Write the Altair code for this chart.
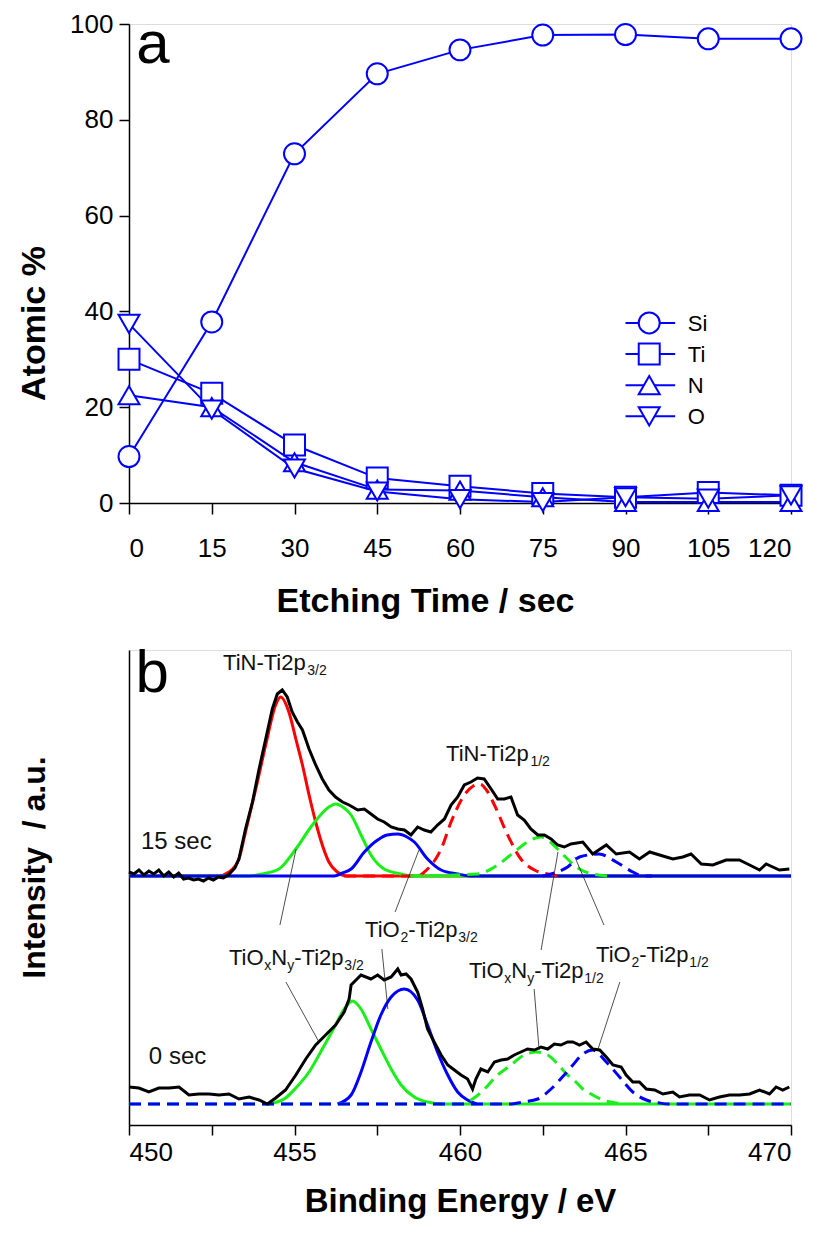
import altair as alt
import pandas as pd

BLUE = "#0000ff"
RED = "#ff0000"
GREEN = "#19f019"
FONT = "Liberation Sans, Arial, sans-serif"

# ---------------- panel a : atomic % vs etching time ----------------
etch_time = [0, 15, 30, 45, 60, 75, 90, 105, 120]
series_names = ["Si", "Ti", "N", "O"]
series_shapes = ["circle", "square", "triangle-up", "triangle-down"]
si_pct = [9.7, 37.8, 72.9, 89.6, 94.6, 97.7, 97.8, 96.9, 96.9]
ti_pct = [30.0, 22.9, 12.1, 5.2, 3.5, 2.0, 1.2, 2.2, 1.6]
n_pct = [22.5, 20.0, 8.5, 2.8, 2.6, 1.2, 0.2, 0.2, 0.2]
o_pct = [37.4, 19.5, 7.2, 2.4, 0.8, 0.2, 1.2, 0.9, 1.6]

rows = []
for k, (name, vals) in enumerate(zip(series_names, [si_pct, ti_pct, n_pct, o_pct])):
    for t, v in zip(etch_time, vals):
        rows.append({"t": t, "v": v, "series": name, "order": k})
df_a = pd.DataFrame(rows)

W = 662
HA = 479
HB = 475

axis_common = dict(
    domainColor="black", domainWidth=1.5, tickColor="black", tickWidth=1.5,
    labelFont=FONT, labelFontSize=26, labelColor="black", grid=False,
    titleFont=FONT, titleFontWeight="bold", titleColor="black",
)

xa = alt.X("t:Q", scale=alt.Scale(domain=[0, 120], nice=False),
           axis=alt.Axis(values=etch_time, title="Etching Time / sec", tickSize=11,
                         labelPadding=21, titleFontSize=34, titleX=296, titleY=108,
                         titleBaseline="alphabetic", **axis_common))
ya = alt.Y("v:Q", scale=alt.Scale(domain=[0, 100], nice=False),
           axis=alt.Axis(values=[0, 20, 40, 60, 80, 100], title="Atomic %", tickSize=10,
                         labelPadding=6, titleFontSize=34, titleX=-85, titleY=299,
                         titleAngle=270, titleBaseline="alphabetic", **axis_common))

shape_scale = alt.Scale(domain=series_names, range=series_shapes)

lines_a = alt.Chart(df_a).mark_line(color=BLUE, strokeWidth=2).encode(
    x=xa, y=ya, detail="series:N", order="t:Q")

points_a = alt.Chart(df_a).mark_point(
    fill="white", stroke=BLUE, strokeWidth=2, opacity=1, fillOpacity=1, size=440
).encode(
    x=xa, y=ya,
    shape=alt.Shape("series:N", scale=shape_scale, legend=None),
    order=alt.Order("order:Q"),
)

# in-plot legend (line + marker + name), placed in data units of the panel
leg_x_start, leg_x_mid, leg_x_end, leg_x_text = 90.0, 94.3, 99.0, 101.3
leg_y_top, leg_y_step = 37.6, 6.5
df_leg = pd.DataFrame({
    "series": series_names,
    "x0": [leg_x_start] * 4, "x1": [leg_x_end] * 4,
    "xm": [leg_x_mid] * 4, "xt": [leg_x_text] * 4,
    "y": [leg_y_top - leg_y_step * k for k in range(4)],
})
leg_rule = alt.Chart(df_leg).mark_rule(color=BLUE, strokeWidth=2).encode(
    x=alt.X("x0:Q", scale=alt.Scale(domain=[0, 120], nice=False)),
    x2="x1:Q", y=alt.Y("y:Q", scale=alt.Scale(domain=[0, 100], nice=False)))
leg_pts = alt.Chart(df_leg).mark_point(
    fill="white", stroke=BLUE, strokeWidth=2, opacity=1, fillOpacity=1, size=440
).encode(
    x=alt.X("xm:Q"), y=alt.Y("y:Q"),
    shape=alt.Shape("series:N", scale=shape_scale, legend=None))
leg_txt = alt.Chart(df_leg).mark_text(
    font=FONT, fontSize=22, align="left", baseline="middle", color="black", dy=1
).encode(x=alt.X("xt:Q"), y=alt.Y("y:Q"), text="series:N")

letter_a = alt.Chart(pd.DataFrame({"t": [1.3], "v": [91.9], "s": ["a"]})).mark_text(
    font=FONT, fontSize=60, align="left", baseline="alphabetic", color="black"
).encode(x=xa, y=ya, text="s:N")

chart_a = alt.layer(lines_a, points_a, leg_rule, leg_pts, leg_txt, letter_a).properties(
    width=W, height=HA)

# ---------------- panel b : XPS Ti2p spectra ----------------
upper_offset = 249
lower_offset = 21

black_15_E = [450.0, 450.15, 450.3, 450.45, 450.6, 450.75, 450.9, 451.05, 451.2, 451.35, 451.5,
              451.65, 451.8, 451.95, 452.1, 452.25, 452.4, 452.55, 452.7, 452.85, 453.0, 453.2,
              453.32, 453.52, 453.73, 453.93, 454.13, 454.33, 454.48, 454.63, 454.78, 454.93,
              455.09, 455.24, 455.44, 455.64, 455.84, 456.04, 456.24, 456.45, 456.65, 456.91,
              457.11, 457.31, 457.51, 457.71, 457.92, 458.12, 458.32, 458.52, 458.72, 458.92,
              459.12, 459.32, 459.53, 459.73, 459.93, 460.13, 460.33, 460.53, 460.73, 460.94,
              461.14, 461.34, 461.54, 461.74, 461.94, 462.14, 462.35, 462.55, 462.75, 462.95,
              463.15, 463.35, 463.71, 464.01, 464.42, 464.72, 465.12, 465.42, 465.73, 466.03,
              466.43, 466.73, 466.98, 467.29, 467.64, 468.04, 468.44, 468.75, 469.05, 469.25,
              469.65, 469.95]
black_15_I = [4, 2, 6, 1, 5, 2, 6, 0, 4, -1, 3,
              -3, -2, -4, -3, -5, -2, -4, -1, -2, 1, 8,
              17, 47, 74, 107, 137, 167, 182, 186, 179, 164,
              154, 146, 127, 111, 97, 86, 79, 74, 71, 66,
              67, 62, 57, 54, 49, 47, 46, 41, 49, 46,
              44, 51, 57, 71, 79, 91, 94, 98, 97, 87,
              77, 77, 79, 61, 56, 47, 41, 41, 37, 31,
              29, 32, 34, 22, 31, 22, 24, 17, 24, 21,
              17, 19, 22, 12, 11, 16, 16, 11, 6, 12,
              6, 7]

black_0_E = [450.0, 450.3, 450.6, 450.9, 451.21, 451.51, 451.81, 452.11, 452.42, 452.72, 453.02,
             453.32, 453.63, 453.93, 454.18, 454.43, 454.73, 455.04, 455.34, 455.64, 455.94,
             456.24, 456.5, 456.65, 456.71, 457.01, 457.31, 457.51, 457.71, 457.92, 458.12,
             458.22, 458.37, 458.52, 458.72, 458.87, 459.02, 459.22, 459.43, 459.63, 459.83,
             460.03, 460.23, 460.38, 460.48, 460.63, 460.84, 461.04, 461.24, 461.44, 461.64,
             461.84, 462.04, 462.25, 462.45, 462.65, 462.85, 463.05, 463.25, 463.41, 463.61,
             463.81, 464.01, 464.22, 464.42, 464.62, 464.87, 465.02, 465.22, 465.42, 465.63,
             465.88, 466.13, 466.43, 466.63, 466.93, 467.24, 467.54, 467.84, 468.14, 468.45,
             468.75, 469.05, 469.35, 469.55, 469.75, 469.95]
black_0_I = [17, 16, 12, 16, 16, 17, 9, 10, 10, 9, 10,
             5, 7, 4, 0, 6, 14, 29, 45, 59, 69,
             79, 92, 105, 119, 129, 125, 129, 124, 127, 135,
             129, 130, 125, 112, 95, 75, 62, 49, 39, 34,
             29, 25, 15, 25, 35, 32, 42, 44, 45, 49,
             52, 55, 54, 57, 55, 60, 59, 62, 62, 59,
             62, 55, 54, 47, 39, 37, 29, 22, 22, 15,
             14, 10, 12, 7, 9, 9, 4, 7, 9, 9,
             10, 14, 10, 17, 14, 17]

# fitted components of the 15 sec spectrum
red_solid_15_E = [450.0, 452.7, 453.02, 453.32, 453.52, 453.83, 454.13, 454.43, 454.58, 454.83,
                  455.04, 455.24, 455.44, 455.64, 455.84, 456.04, 456.29, 456.6, 470.0]
red_solid_15_I = [0, 0, 4, 17, 44, 87, 131, 171, 179, 164, 137, 111, 81, 54, 31, 14, 4, 0, 0]
green_solid_15_E = [450.0, 453.6, 454.03, 454.53, 455.04, 455.54, 456.04, 456.24, 456.5, 456.71,
                    457.01, 457.31, 457.71, 458.22, 458.6, 470.0]
green_solid_15_I = [0, 0, 2, 7, 27, 51, 69, 72, 68, 61, 41, 21, 7, 2, 0, 0]
blue_solid_15_E = [450.0, 456.2, 456.45, 456.71, 457.11, 457.51, 457.8, 458.12, 458.4, 458.62,
                   459.02, 459.43, 459.93, 460.3, 470.0]
blue_solid_15_I = [0, 0, 3, 7, 24, 36, 41, 42, 39, 34, 17, 6, 2, 0, 0]
red_dash_15_E = [456.5, 458.7, 459.02, 459.43, 459.73, 460.13, 460.4, 460.6, 460.8, 461.04,
                 461.44, 461.84, 462.25, 462.65, 463.0]
red_dash_15_I = [0, 0, 7, 27, 54, 81, 90, 92, 86, 71, 41, 17, 6, 2, 0]
green_dash_15_E = [458.5, 460.53, 461.14, 461.64, 462.14, 462.45, 462.95, 463.25, 463.61,
                   464.0, 464.5]
green_dash_15_I = [0, 2, 11, 24, 36, 39, 27, 17, 7, 2, 0]
blue_dash_15_E = [462.5, 462.75, 463.25, 463.61, 464.2, 464.72, 465.22, 465.52, 465.8]
blue_dash_15_I = [0, 2, 9, 19, 22, 14, 4, 0, 0]

# fitted components of the 0 sec spectrum
green_solid_0_E = [454.23, 454.73, 455.04, 455.44, 455.84, 456.24, 456.5, 456.75, 457.01,
                   457.31, 457.61, 457.92, 458.22, 458.62, 459.02, 459.5, 470.0]
green_solid_0_I = [0, 6, 16, 32, 55, 79, 95, 103, 95, 75, 55, 35, 19, 7, 2, 0, 0]
blue_solid_0_E = [456.3, 456.71, 457.01, 457.31, 457.61, 457.92, 458.32, 458.72, 459.02,
                  459.32, 459.63, 459.93, 460.23, 460.5]
blue_solid_0_I = [0, 9, 32, 62, 89, 107, 115, 104, 79, 52, 29, 12, 4, 0]
green_dash_0_E = [450.0, 460.0, 460.38, 460.74, 461.14, 461.54, 461.94, 462.3, 462.65, 462.95,
                  463.25, 463.41, 463.71, 464.01, 464.32, 464.72, 465.0]
green_dash_0_I = [0, 0, 5, 15, 29, 39, 49, 52, 49, 40, 29, 25, 15, 9, 4, 1, 0]
blue_dash_0_E = [450.0, 461.5, 461.9, 462.35, 462.75, 463.15, 463.41, 463.71, 464.01, 464.42,
                 464.82, 465.22, 465.63, 466.03, 466.3, 470.0]
blue_dash_0_I = [0, 0, 2, 5, 15, 29, 39, 50, 54, 42, 27, 12, 4, 1, 0, 0]

components = [
    ("red_solid_15", red_solid_15_E, red_solid_15_I, upper_offset, RED, False),
    ("green_solid_15", green_solid_15_E, green_solid_15_I, upper_offset, GREEN, False),
    ("blue_solid_15", blue_solid_15_E, blue_solid_15_I, upper_offset, BLUE, False),
    ("red_dash_15", red_dash_15_E, red_dash_15_I, upper_offset, RED, True),
    ("green_dash_15", green_dash_15_E, green_dash_15_I, upper_offset, GREEN, True),
    ("blue_dash_15", blue_dash_15_E, blue_dash_15_I, upper_offset, BLUE, True),
    ("green_solid_0", green_solid_0_E, green_solid_0_I, lower_offset, GREEN, False),
    ("blue_solid_0", blue_solid_0_E, blue_solid_0_I, lower_offset, BLUE, False),
    ("green_dash_0", green_dash_0_E, green_dash_0_I, lower_offset, GREEN, True),
    ("blue_dash_0", blue_dash_0_E, blue_dash_0_I, lower_offset, BLUE, True),
]

xb_scale = alt.Scale(domain=[450, 470], nice=False)
yb_scale = alt.Scale(domain=[0, HB], nice=False)
xb_ticks = [450, 452.5, 455, 457.5, 460, 462.5, 465, 467.5, 470]
xb = alt.X("E:Q", scale=xb_scale,
           axis=alt.Axis(values=xb_ticks, title="Binding Energy / eV", tickSize=10,
                         labelPadding=4, labelExpr="datum.value % 5 == 0 ? datum.label : ''",
                         titleFontSize=33, titleX=W / 2, titleY=86,
                         titleBaseline="alphabetic", **axis_common))
yb = alt.Y("I:Q", scale=yb_scale,
           axis=alt.Axis(title="Intensity\u00a0 / a.u.", labels=False, ticks=False,
                         titleFontSize=32, titleX=-85, titleY=217, titleAngle=270,
                         titleBaseline="alphabetic", **axis_common))

layers_b = []
for name, es, ins, off, col, dashed in components:
    dfc = pd.DataFrame({"E": es, "I": [v + off for v in ins]})
    kw = dict(color=col, strokeWidth=3, interpolate="monotone")
    if dashed:
        kw["strokeDash"] = [12, 7]
    layers_b.append(alt.Chart(dfc).mark_line(**kw).encode(x=xb, y=yb))
    if name == "blue_dash_15":
        df15 = pd.DataFrame({"E": black_15_E, "I": [v + upper_offset for v in black_15_I]})
        layers_b.append(alt.Chart(df15).mark_line(color="black", strokeWidth=3).encode(x=xb, y=yb))

df0 = pd.DataFrame({"E": black_0_E, "I": [v + lower_offset for v in black_0_I]})
layers_b.append(alt.Chart(df0).mark_line(color="black", strokeWidth=3).encode(x=xb, y=yb))

# leader lines of the annotations (energy, intensity of both ends)
lead_E1 = [455.05, 458.76, 462.96, 463.47, 454.74, 457.64, 462.24, 464.83]
lead_I1 = [276, 275, 273, 268, 143, 176, 136, 143]
lead_E2 = [454.56, 458.04, 462.45, 464.35, 455.74, 457.82, 462.39, 464.17]
lead_I2 = [200, 213, 175, 200, 83, 116, 75, 76]
df_lead = pd.DataFrame({"E": lead_E1, "I": lead_I1, "E2": lead_E2, "I2": lead_I2})
layers_b.append(alt.Chart(df_lead).mark_rule(color="#222222", strokeWidth=0.8).encode(
    x=xb, y=yb, x2="E2:Q", y2="I2:Q"))

# peak labels: anchor (energy, intensity) and text pieces (text, offset px, subscript?)
label_E = [452.84, 459.58, 457.13, 453.02, 460.27, 464.11]
label_I = [455, 364, 188, 160, 147, 163]
label_parts = [
    [("TiN-Ti2p", 0, False), ("3/2", 84.3, True)],
    [("TiN-Ti2p", 0, False), ("1/2", 84.3, True)],
    [("TiO", 0, False), ("2", 35.4, True), ("-Ti2p", 43.2, False), ("3/2", 93.3, True)],
    [("TiO", 0, False), ("x", 35.4, True), ("N", 42.4, False), ("y", 58.3, True),
     ("-Ti2p", 65.3, False), ("3/2", 115.4, True)],
    [("TiO", 0, False), ("x", 35.4, True), ("N", 42.4, False), ("y", 58.3, True),
     ("-Ti2p", 65.3, False), ("1/2", 115.4, True)],
    [("TiO", 0, False), ("2", 35.4, True), ("-Ti2p", 43.2, False), ("1/2", 93.3, True)],
]
px_per_eV = W / 20.0
main_rows, sub_rows = [], []
for e, i, parts in zip(label_E, label_I, label_parts):
    for txt, dx, is_sub in parts:
        row = {"E": e + dx / px_per_eV, "I": i - (5 if is_sub else 0), "s": txt}
        (sub_rows if is_sub else main_rows).append(row)
layers_b.append(alt.Chart(pd.DataFrame(main_rows)).mark_text(
    font=FONT, fontSize=22, align="left", baseline="alphabetic", color="#111111"
).encode(x=xb, y=yb, text="s:N"))
layers_b.append(alt.Chart(pd.DataFrame(sub_rows)).mark_text(
    font=FONT, fontSize=14, align="left", baseline="alphabetic", color="#111111"
).encode(x=xb, y=yb, text="s:N"))

# time labels and panel letter
time_label = ["15 sec", "0 sec"]
time_E = [450.36, 450.6]
time_I = [276, 61]
layers_b.append(alt.Chart(pd.DataFrame({"E": time_E, "I": time_I, "s": time_label})).mark_text(
    font=FONT, fontSize=24, align="left", baseline="alphabetic", color="#111111"
).encode(x=xb, y=yb, text="s:N"))
layers_b.append(alt.Chart(pd.DataFrame({"E": [450.2], "I": [433], "s": ["b"]})).mark_text(
    font=FONT, fontSize=60, align="left", baseline="alphabetic", color="black"
).encode(x=xb, y=yb, text="s:N"))

chart_b = alt.layer(*layers_b).properties(width=W, height=HB)

chart = alt.vconcat(chart_a, chart_b, spacing=24).properties(
    padding={"left": 16, "top": 10, "right": 5, "bottom": 0}
).configure_view(stroke="black", strokeWidth=1.5).configure(background="white")

chart.save("out.html", embed_options={"renderer": "svg", "actions": False})
